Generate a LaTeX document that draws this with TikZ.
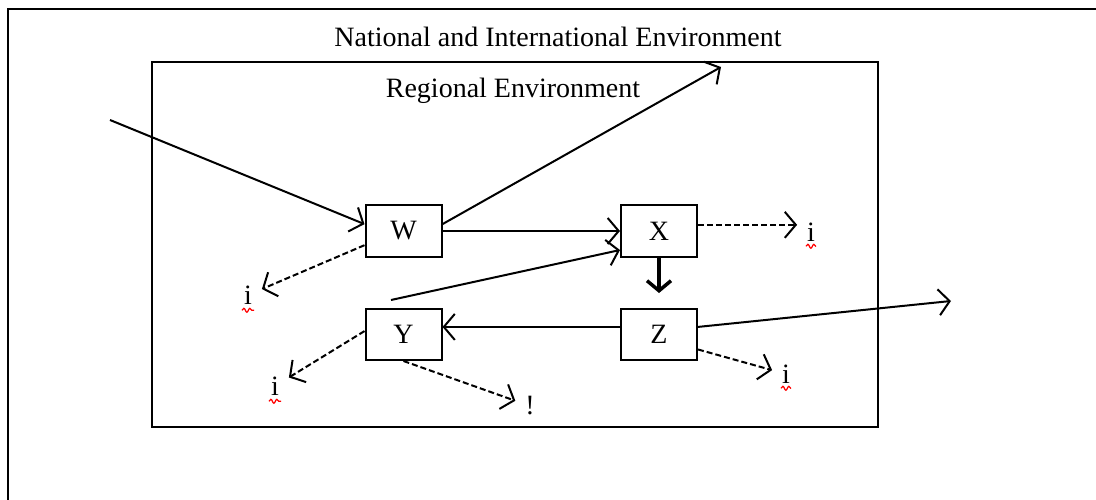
\documentclass[tikz,border=0pt]{standalone}
\usepackage{fontspec}
\setmainfont{Liberation Serif}
\usetikzlibrary{arrows.meta, calc, decorations.pathmorphing}
\tikzset{
  >={Straight Barb[length=11pt,width=26pt]}, % open arrow heads
  box/.style={draw, minimum width=76pt, minimum height=51pt, inner sep=0pt},
  leak/.style={->, dash pattern=on 6pt off 3pt}, % dashed leakage arrows
  lost/.style={inner sep=9pt}, % the little i marks
  squiggle/.style={red, line width=1.2pt, decorate,
    decoration={snake, amplitude=2pt, segment length=6pt}},
}

\begin{document}
\begin{tikzpicture}[x=1pt,y=-1pt,line width=2pt,
  font=\fontsize{28}{34}\selectfont]
  \useasboundingbox (0,0) rectangle (1096,500);
  \clip (0,0) rectangle (1096,500);

  % the two environments
  \draw (8,9) rectangle (1120,530);
  \node[anchor=base] (national) at (558,47) {National and International Environment};
  \draw (152,62) rectangle (878,427);
  \node[anchor=base] (regional) at (513,97.5) {Regional Environment};

  \node[box] (W) at (403.5,231) {W};
  \node[box] (X) at (659,231) {X};
  \node[box] (Y) at (403.5,334.5) {Y};
  \node[box] (Z) at (659,334.5) {Z};

  \coordinate (from_outside) at (110,120);
  \coordinate (to_national) at (721,67);
  \coordinate (y_start) at (391,300);
  \coordinate (to_outside) at (951,301);

  \node[lost] (i_w) at (248,295) {i};
  \node[lost] (i_x) at (811,232) {i};
  \node[lost] (i_y) at (275,386) {i};
  \node[lost] (excl_y) at (530,406) {!};
  \node[lost] (i_z) at (786,374) {i};

  \draw[->] (from_outside) -- (W.170);
  \draw[->] (W.10) -- (to_national);
  \draw[->] (W.east) -- (X.west);
  \draw[->] (y_start) -- (X.206);
  \draw[-{Straight Barb[length=10pt,width=24pt]}, line width=3.5pt,
    shorten >=15pt] (X.south) -- (Z.north);
  \draw[->] (Z.169) -- (Y.11);
  \draw[->] (Z.11) -- (to_outside);

  \draw[leak] (W.200) -- (i_w);
  \draw[leak] (X.9) -- (X.9 -| i_x.west);
  \draw[leak] (Y.175) -- (i_y);
  \draw[leak] (Y.south) -- (excl_y);
  \draw[leak] (Z.339) -- (i_z);

  % spell check marks
  \draw[squiggle] ($(i_w.base)+(-6,6)$) -- ($(i_w.base)+(6,6)$);
  \draw[squiggle] ($(i_x.base)+(-5,5)$) -- ($(i_x.base)+(5,5)$);
  \draw[squiggle] ($(i_y.base)+(-6,6)$) -- ($(i_y.base)+(6,6)$);
  \draw[squiggle] ($(i_z.base)+(-5,5)$) -- ($(i_z.base)+(5,5)$);
\end{tikzpicture}
\end{document}
